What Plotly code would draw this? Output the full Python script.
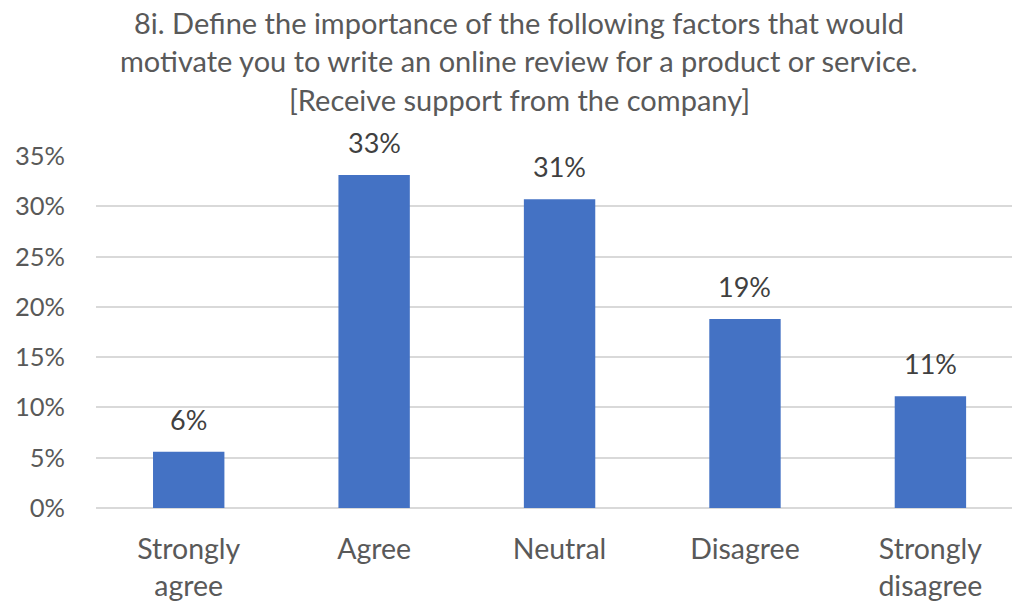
import plotly.graph_objects as go

categories = ["Strongly<br>agree", "Agree", "Neutral", "Disagree", "Strongly<br>disagree"]
shares = [0.056, 0.331, 0.307, 0.188, 0.111]
tick_values = [0, 0.05, 0.10, 0.15, 0.20, 0.25, 0.30, 0.35]
title_lines = [
    "8i. Define the importance of the following factors that would",
    "motivate you to write an online review for a product or service.",
    "[Receive support from the company]",
]

FONT = "Lato"
W, H = 1012, 604
ML, MR, MT, MB = 96, 0, 156, 96

fig = go.Figure(
    go.Bar(
        x=list(range(len(categories))),
        y=shares,
        marker=dict(color="#4472C4", line=dict(width=0)),
        width=0.385,
        hoverinfo="skip",
    )
)

# value labels above each bar
for i, v in enumerate(shares):
    fig.add_annotation(
        x=i, y=v, xref="x", yref="y",
        text=f"{round(v * 100):.0f}%",
        showarrow=False, yanchor="bottom", yshift=14,
        font=dict(family=FONT, size=27, color="#404040"),
    )

# three-line title
plot_h = H - MT - MB
plot_w = W - ML - MR
for line, ypx in zip(title_lines, [22, 60, 99]):
    fig.add_annotation(
        x=(519 - ML) / plot_w, y=1 + (MT - ypx) / plot_h,
        xref="paper", yref="paper",
        text=line, showarrow=False, xanchor="center", yanchor="middle",
        font=dict(family=FONT, size=29, color="#595959"),
    )

fig.update_layout(
    width=W, height=H,
    margin=dict(l=ML, r=MR, t=MT, b=MB),
    paper_bgcolor="white", plot_bgcolor="white",
    showlegend=False,
    xaxis=dict(
        range=[-0.5, 4.44],
        tickmode="array",
        tickvals=list(range(len(categories))),
        ticktext=categories,
        tickfont=dict(family=FONT, size=28.5, color="#595959"),
        showgrid=False, zeroline=False, showline=False, ticks="",
        ticklabelstandoff=21,
    ),
    yaxis=dict(
        range=[0, 0.35],
        tickmode="array",
        tickvals=tick_values,
        tickformat=".0%",
        tickfont=dict(family=FONT, size=25.5, color="#595959"),
        showgrid=True, gridcolor="#D9D9D9", gridwidth=1.5,
        zeroline=True, zerolinecolor="#D9D9D9", zerolinewidth=1.5,
        showline=False, ticks="",
        ticklabelstandoff=30,
    ),
)

fig.write_html("out.html")
